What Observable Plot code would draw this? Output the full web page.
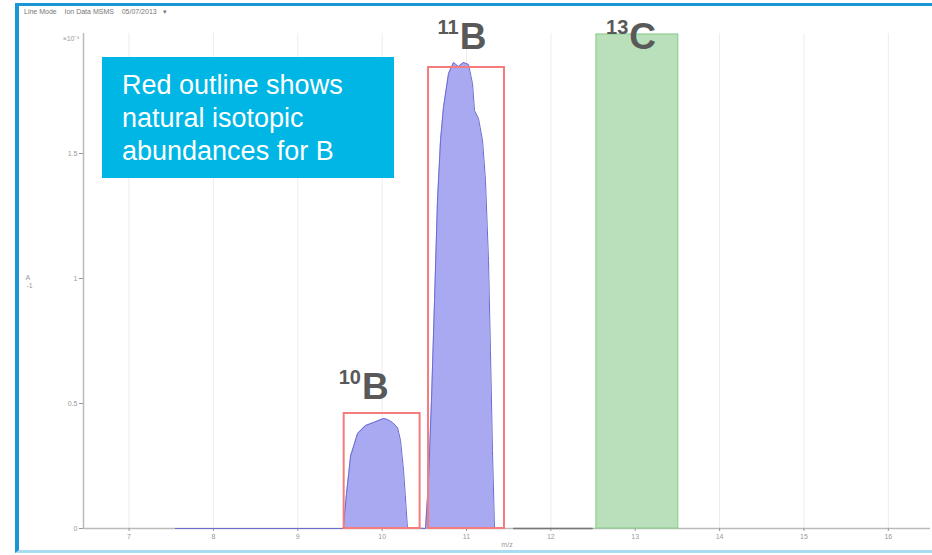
<!DOCTYPE html>
<html>
<head>
<meta charset="utf-8">
<script src="https://cdn.jsdelivr.net/npm/d3@7"></script>
<script src="https://cdn.jsdelivr.net/npm/@observablehq/plot@0.6"></script>
<style>
  html, body { margin: 0; padding: 0; background: #fff; overflow: hidden; }
  #wrap { position: relative; width: 932px; height: 555px; overflow: hidden; font-family: "Liberation Sans", Arial, sans-serif; }
  #chart svg { display: block; }
  #frame { position: absolute; left: 15px; top: 3px; right: -60px; bottom: 2px;
           border-left: 4px solid #1a96d4; border-top: 3px solid #1a96d4; border-bottom: 3px solid #a9dcf2;
           pointer-events: none; }
  #header { position: absolute; left: 24px; top: 8px; font-size: 7px; color: #777; white-space: pre; }
  #note { position: absolute; left: 102px; top: 57px; width: 272px; height: 109px; background: #00b6e4;
          color: #fff; font-size: 27px; line-height: 33px; padding: 12px 0 0 20px; white-space: nowrap; }
</style>
</head>
<body>
<div id="wrap">
  <div id="chart"></div>
  <div id="frame"></div>
  <div id="header">Line Mode    Ion Data MSMS    05/07/2013   ▾</div>
  <div id="note">Red outline shows<br>natural isotopic<br>abundances for B</div>
</div>
<script>
// ---- data ----
const xDomain = [6.46, 16.5];
const yDomain = [0, 1.98];
const massTicks = [7, 8, 9, 10, 11, 12, 13, 14, 15, 16];
const signalTicks = [0, 0.5, 1, 1.5];
const exponentLabel = "×10⁻⁹";

// measured boron signal (blue trace)
const boronMass = [7.55, 9.54, 9.578, 9.626, 9.709, 9.803, 9.898, 10.017, 10.064, 10.123, 10.183, 10.218, 10.254, 10.30,
                   10.514, 10.55, 10.585, 10.621, 10.656, 10.692, 10.727, 10.787, 10.846, 10.905, 10.964, 11.024,
                   11.071, 11.095, 11.142, 11.19, 11.225, 11.261, 11.284, 11.308, 11.332];
const boronSignal = [0, 0, 0.14, 0.29, 0.38, 0.412, 0.424, 0.44, 0.436, 0.424, 0.404, 0.352, 0.232, 0.004,
                     0, 0.192, 0.512, 0.912, 1.312, 1.552, 1.684, 1.82, 1.864, 1.848, 1.864, 1.856,
                     1.78, 1.672, 1.64, 1.552, 1.392, 1.072, 0.712, 0.312, 0];

// baseline segment between peaks (grey)
const greyMass = [11.56, 12.49];
const greySignal = [0, 0];

// natural abundance outlines (red)
const natIsotope = ["10B", "11B"];
const natLow = [9.55, 10.55];
const natHigh = [10.45, 11.45];
const natTop = [0.46, 1.844];

// carbon-13 bar (green)
const carbonLow = [12.54];
const carbonHigh = [13.51];
const carbonTop = [1.976];

// isotope labels
const labelMass = ["10", "11", "13"];
const labelElement = ["B", "B", "C"];
const labelX = [9.76, 10.92, 12.93];
const labelY = [0.52, 1.92, 1.92];

// ---- build tables ----
const boron = boronMass.map((m, i) => ({m, s: boronSignal[i]}));
const grey = greyMass.map((m, i) => ({m, s: greySignal[i]}));
const nat = natIsotope.map((k, i) => ({k, x1: natLow[i], x2: natHigh[i], y: natTop[i]}));
const carbon = carbonLow.map((x1, i) => ({x1, x2: carbonHigh[i], y: carbonTop[i]}));
const labels = labelMass.map((a, i) => ({a, e: labelElement[i], x: labelX[i], y: labelY[i]}));

const font = "Liberation Sans, Arial, sans-serif";

const chart = Plot.plot({
  width: 932,
  height: 555,
  marginLeft: 83,
  marginRight: 2,
  marginTop: 33,
  marginBottom: 27,
  style: {fontFamily: font, background: "transparent"},
  x: {domain: xDomain, label: null},
  y: {domain: yDomain, label: null},
  marks: [
    Plot.gridX(massTicks, {stroke: "#ececec", strokeOpacity: 1}),
    Plot.ruleY([0], {stroke: "#bbbbbb", strokeWidth: 1.5}),
    Plot.ruleX([xDomain[0]], {stroke: "#bbbbbb", strokeWidth: 1.5}),
    Plot.axisX(massTicks, {tickSize: 3, fontSize: 7, color: "#999", tickPadding: 3, label: null}),
    Plot.axisY(signalTicks, {tickSize: 4, fontSize: 7, color: "#999", tickPadding: 2, label: null, tickFormat: d => String(d)}),
    Plot.text([exponentLabel], {frameAnchor: "top-left", dx: -4, dy: 3, textAnchor: "end", fontSize: 7, fill: "#999"}),
    Plot.text(["A"], {frameAnchor: "left", dx: -58, dy: -3, fontSize: 7, fill: "#999"}),
    Plot.text(["-1"], {frameAnchor: "left", dx: -57, dy: 5, fontSize: 7, fill: "#999"}),
    Plot.text(["m/z"], {frameAnchor: "bottom", dy: 18, fontSize: 7, fill: "#999"}),
    Plot.rect(carbon, {x1: "x1", x2: "x2", y1: 0, y2: "y", fill: "#b9e0ba", stroke: "#8fcf91", strokeWidth: 1.2}),
    Plot.areaY(boron, {x: "m", y: "s", fill: "#a9a9f2", fillOpacity: 1}),
    Plot.line(boron, {x: "m", y: "s", stroke: "#6b6bd0", strokeWidth: 1}),
    Plot.line(grey, {x: "m", y: "s", stroke: "#777", strokeWidth: 1.5}),
    Plot.rect(nat, {x1: "x1", x2: "x2", y1: 0, y2: "y", fill: "none", stroke: "#f47c7c", strokeWidth: 2}),
    Plot.text(labels, {x: "x", y: "y", text: "e", textAnchor: "start", lineAnchor: "bottom", fontSize: 37, fontWeight: "bold", fill: "#595959"}),
    Plot.text(labels, {x: "x", y: "y", text: "a", textAnchor: "end", lineAnchor: "bottom", dx: -1, dy: -15, fontSize: 20, fontWeight: "bold", fill: "#595959"})
  ]
});
document.getElementById("chart").appendChild(chart);
</script>
</body>
</html>
